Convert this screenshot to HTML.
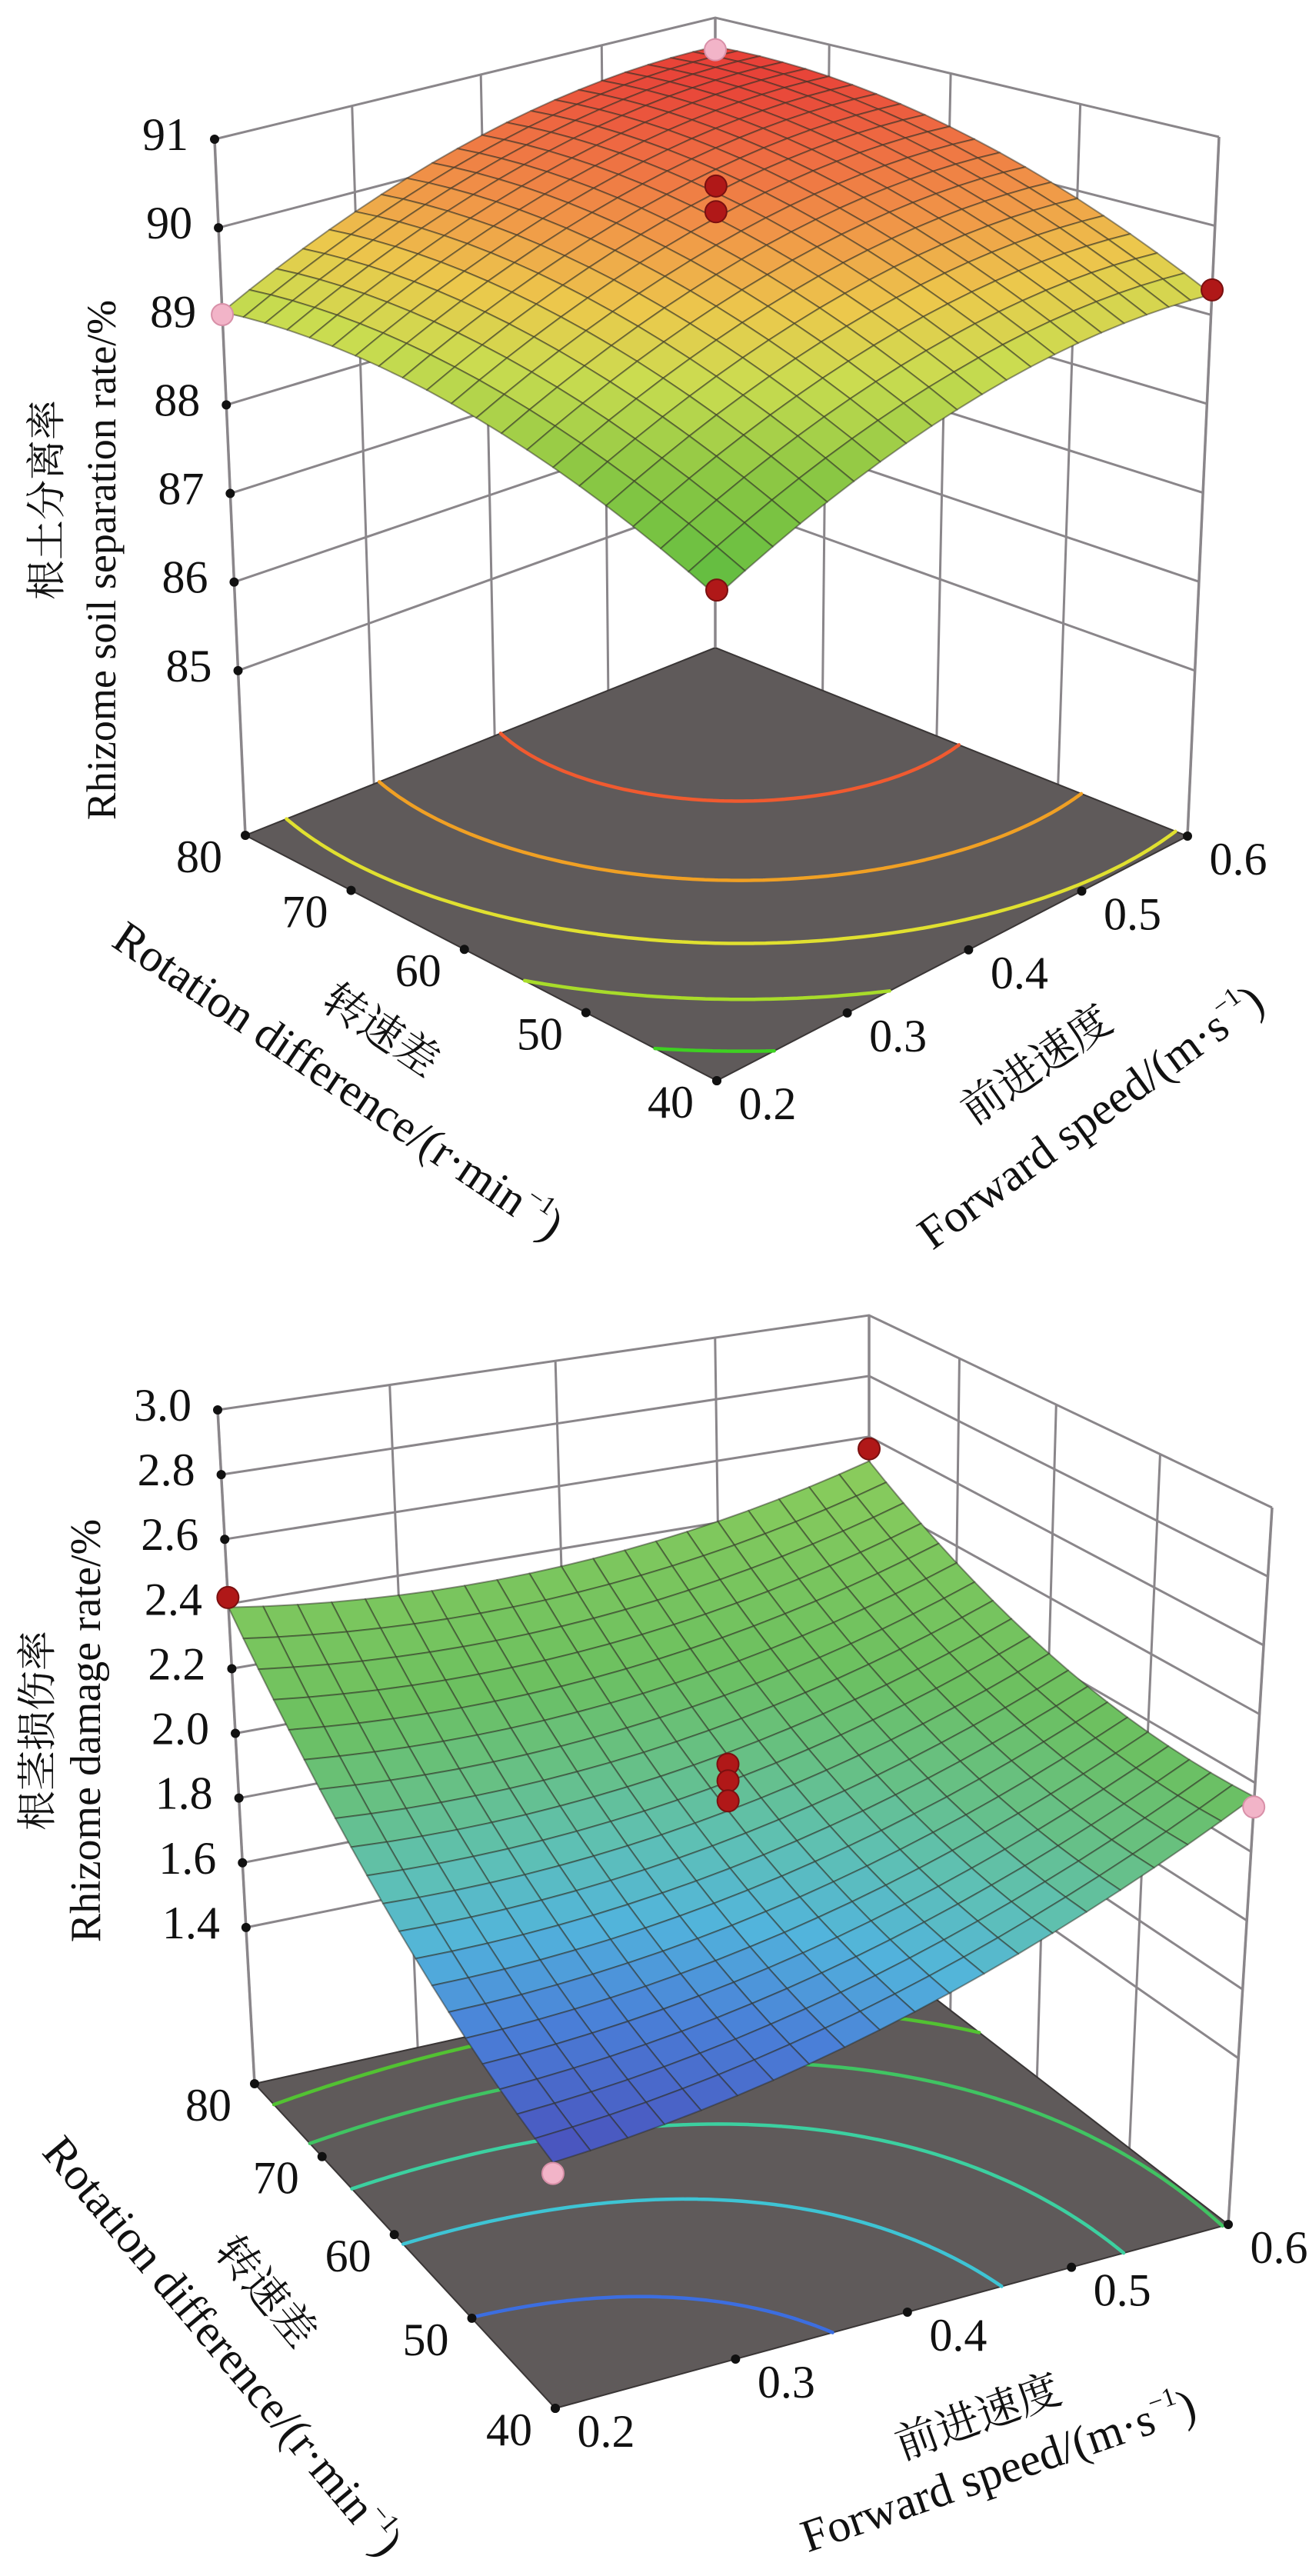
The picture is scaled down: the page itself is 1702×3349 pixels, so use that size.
<!DOCTYPE html>
<html><head><meta charset="utf-8"><style>
html,body{margin:0;padding:0;background:#fff;}
svg{display:block;}
svg text{font-family:"Liberation Serif","Times New Roman","DejaVu Serif","Noto Serif CJK SC",serif;fill:#111;}
svg text.cn{font-family:"Liberation Serif","Noto Serif CJK SC","Noto Sans CJK SC",serif;}
</style></head><body>
<svg id="fig" width="1702" height="3349" viewBox="0 0 1702 3349" xmlns="http://www.w3.org/2000/svg" font-family="Liberation Serif, Times New Roman, DejaVu Serif, Noto Serif CJK SC, serif">
<rect width="1702" height="3349" fill="#fff"/>
<g id="chart-top" font-family="Liberation Serif, serif"></g>
<g id="chart-bot" font-family="Liberation Serif, serif"></g>
<g font-size="60" font-family="Liberation Serif, Noto Serif CJK SC, serif">
 <text class="cn" x="62" y="650" font-size="52" text-anchor="middle" dominant-baseline="central" transform="rotate(-90 62 650)">根土分离率</text>
 <text x="132" y="728" font-size="54" text-anchor="middle" dominant-baseline="central" transform="rotate(-90 132 728)">Rhizome soil separation rate/%</text>
 <text class="cn" x="495" y="1340" font-size="56" text-anchor="middle" dominant-baseline="central" transform="rotate(34 495 1340)">转速差</text>
 <text x="440" y="1405" text-anchor="middle" dominant-baseline="central" transform="rotate(34 440 1405)">Rotation difference/(r·min<tspan font-size="34" dy="-18">−1</tspan><tspan dy="18">)</tspan></text>
 <text class="cn" x="1348" y="1385" font-size="56" text-anchor="middle" dominant-baseline="central" transform="rotate(-35 1348 1385)">前进速度</text>
 <text x="1418" y="1452" text-anchor="middle" dominant-baseline="central" transform="rotate(-36 1418 1452)">Forward speed/(m·s<tspan font-size="34" dy="-18">−1</tspan><tspan dy="18">)</tspan></text>
</g>
<g font-size="60" font-family="Liberation Serif, Noto Serif CJK SC, serif">
 <text class="cn" x="50" y="2250" font-size="52" text-anchor="middle" dominant-baseline="central" transform="rotate(-90 50 2250)">根茎损伤率</text>
 <text x="112" y="2250" font-size="56" text-anchor="middle" dominant-baseline="central" transform="rotate(-90 112 2250)">Rhizome damage rate/%</text>
 <text class="cn" x="345" y="2980" font-size="56" text-anchor="middle" dominant-baseline="central" transform="rotate(50 345 2980)">转速差</text>
 <text x="290" y="3050" text-anchor="middle" dominant-baseline="central" transform="rotate(50 290 3050)">Rotation difference/(r·min<tspan font-size="34" dy="-18">−1</tspan><tspan dy="18">)</tspan></text>
 <text class="cn" x="1272" y="3143" font-size="56" text-anchor="middle" dominant-baseline="central" transform="rotate(-20 1272 3143)">前进速度</text>
 <text x="1298" y="3212" text-anchor="middle" dominant-baseline="central" transform="rotate(-19 1298 3212)">Forward speed/(m·s<tspan font-size="34" dy="-18">−1</tspan><tspan dy="18">)</tspan></text>
</g>
</svg>
<script>
// ---- data ----
const speedTicks = [0.2, 0.3, 0.4, 0.5, 0.6];
const speedLabels = ["0.2", "0.3", "0.4", "0.5", "0.6"];
const rotTicks = [40, 50, 60, 70, 80];
const rotLabels = ["40", "50", "60", "70", "80"];
// regression coefficients (coded): b0, b1(speed), b2(rot), b12, b11, b22
const topCoef = [90.1, 0.705, 0.615, 0.09, -0.435, -0.435];
const botCoef = [1.94, 0.1775, 0.2925, -0.1125, 0.111, 0.111];
const topZTicks = [85, 86, 87, 88, 89, 90, 91];
const topZLabels = ["85", "86", "87", "88", "89", "90", "91"];
const botZTicks = [1.4, 1.6, 1.8, 2.0, 2.2, 2.4, 2.6, 2.8, 3.0];
const botZLabels = ["1.4", "1.6", "1.8", "2.0", "2.2", "2.4", "2.6", "2.8", "3.0"];
// design points: speed, rotation, response
const topPtSpeed = [0.2, 0.6, 0.2, 0.6, 0.4, 0.4];
const topPtRot = [80, 40, 40, 80, 60, 60];
const topPtVal = [89.02, 89.28, 88.06, 90.6, 90.46, 90.17];
const botPtSpeed = [0.2, 0.6, 0.6, 0.2, 0.4, 0.4, 0.4];
const botPtRot = [80, 80, 40, 40, 60, 60, 60];
const botPtVal = [2.42, 2.56, 2.13, 1.55, 2.08, 2.03, 1.97];
const topLevels = [88.3, 88.8, 89.3, 89.8, 90.3];
const botLevels = [1.7, 1.85, 2.0, 2.15, 2.3];
const topStopVals = [88.0, 88.7, 89.2, 89.6, 90.0, 90.4, 90.7];
const botStopVals = [1.56, 1.7, 1.8, 1.9, 2.0, 2.15, 2.5];

// ---- styling / geometry ----
const topStopCols = ["#5cbc40","#8ec844","#cadc50","#ecc84c","#f09848","#ee6a42","#e63a36"];
const botStopCols = ["#4a4ab8","#4a80d8","#52b4dc","#5ec0b4","#66c088","#6cc060","#8acc5c"];
const topContourCols = ["#3ed022","#a8dc2a","#e0e030","#f0a024","#f05a30"];
const botContourCols = ["#3c6ee0","#3ec4d4","#3cd0a0","#40c462","#52c232"];

const NS = "http://www.w3.org/2000/svg";
function mk(tag, attrs, parent){const e=document.createElementNS(NS,tag);for(const k in attrs)e.setAttribute(k,attrs[k]);parent.appendChild(e);return e;}
function hom(q){
  const [x0,y0]=q[0],[x1,y1]=q[1],[x2,y2]=q[2],[x3,y3]=q[3];
  const dx1=x1-x2,dx2=x3-x2,dx3=x0-x1+x2-x3,dy1=y1-y2,dy2=y3-y2,dy3=y0-y1+y2-y3;
  const den=dx1*dy2-dx2*dy1;
  const g=(dx3*dy2-dx2*dy3)/den,h=(dx1*dy3-dx3*dy1)/den;
  const a=x1-x0+g*x1,b=x3-x0+h*x3,c=x0,d=y1-y0+g*y1,e=y3-y0+h*y3,f=y0;
  return (u,v)=>{const w=g*u+h*v+1;return [(a*u+b*v+c)/w,(d*u+e*v+f)/w];};
}
function hex(c){return [parseInt(c.slice(1,3),16),parseInt(c.slice(3,5),16),parseInt(c.slice(5,7),16)];}
function cmap(val, sv, sc){
  if(val<=sv[0])return sc[0]; if(val>=sv[sv.length-1])return sc[sc.length-1];
  for(let i=0;i<sv.length-1;i++){if(val<=sv[i+1]){const t=(val-sv[i])/(sv[i+1]-sv[i]);const a=hex(sc[i]),b=hex(sc[i+1]);
    return "rgb("+a.map((x,j)=>Math.round(x+(b[j]-x)*t)).join(",")+")";}}
}

function build(g, cfg){
  const hb=hom(cfg.bot), ht=hom(cfg.top);
  const uS=s=>(s-0.2)/0.4, vR=r=>(r-40)/40;
  const zt=z=>(z-cfg.zmin)/(cfg.zmax-cfg.zmin);
  const P=(u,v,z)=>{const a=hb(u,v),b=ht(u,v),t=zt(z);return [a[0]+(b[0]-a[0])*t,a[1]+(b[1]-a[1])*t];};
  const c=cfg.coef;
  const F=(u,v)=>{const x=2*u-1,y=2*v-1;return c[0]+c[1]*x+c[2]*y+c[3]*x*y+c[4]*x*x+c[5]*y*y;};
  const pt=p=>p[0].toFixed(1)+","+p[1].toFixed(1);
  const z0=cfg.zmin,z1=cfg.zmax;
  const walls=mk("g",{},g);
  
  
  const ws={stroke:"#8a868a","stroke-width":3,fill:"none"};
  cfg.zTicks.forEach(z=>{
    const l=mk("polyline",Object.assign({points:[P(0,1,z),P(1,1,z),P(1,0,z)].map(pt).join(" ")},ws),walls);
    
    
  });
  speedTicks.forEach(s=>{
    const u=uS(s);
    const l=mk("line",Object.assign({x1:P(u,1,z0)[0],y1:P(u,1,z0)[1],x2:P(u,1,z1)[0],y2:P(u,1,z1)[1]},ws),walls);
    
    
  });
  rotTicks.forEach(r=>{
    const v=vR(r);
    const l=mk("line",Object.assign({x1:P(1,v,z0)[0],y1:P(1,v,z0)[1],x2:P(1,v,z1)[0],y2:P(1,v,z1)[1]},ws),walls);
    
    
  });
  const floor=mk("polygon",{points:[P(0,0,z0),P(1,0,z0),P(1,1,z0),P(0,1,z0)].map(pt).join(" "),fill:"#5f5a5a",stroke:"#3a3636","stroke-width":2},g);
  
  
  const cg=mk("g",{fill:"none","stroke-width":4.5,"stroke-linecap":"round"},g);
  
  
  const M=80;
  cfg.levels.forEach((L,li)=>{
    let d="";
    for(let i=0;i<M;i++)for(let j=0;j<M;j++){
      const u0=i/M,u1=(i+1)/M,v0=j/M,v1=(j+1)/M;
      const cs=[[u0,v0],[u1,v0],[u1,v1],[u0,v1]];
      const vals=cs.map(q=>F(q[0],q[1]));
      const cr=[];
      for(let k=0;k<4;k++){const a=vals[k],b=vals[(k+1)%4];
        if((a<L)!==(b<L)){const t=(L-a)/(b-a);const p=cs[k],q=cs[(k+1)%4];cr.push([p[0]+(q[0]-p[0])*t,p[1]+(q[1]-p[1])*t]);}}
      for(let k=0;k+1<cr.length;k+=2){d+="M"+pt(P(cr[k][0],cr[k][1],z0))+"L"+pt(P(cr[k+1][0],cr[k+1][1],z0));}
    }
    const p=mk("path",{d:d,stroke:cfg.contourCols[li]},cg);
    
    
  });
  const eg=mk("g",{stroke:"#8a868a","stroke-width":3.5,fill:"none"},g);
  
  
  [[0,1],[1,1],[1,0]].forEach(q=>{const a=P(q[0],q[1],z0),b=P(q[0],q[1],z1);
    const l=mk("line",{x1:a[0],y1:a[1],x2:b[0],y2:b[1]},eg);
    
    });
  const sg=mk("g",{stroke:"rgba(45,45,35,0.5)","stroke-width":2,"stroke-linejoin":"round"},g);
  
  
  const N=20, quads=[];
  for(let i=0;i<N;i++)for(let j=0;j<N;j++)quads.push([i,j]);
  quads.sort((a,b)=>(b[0]+b[1])-(a[0]+a[1]));
  quads.forEach(([i,j])=>{
    const u0=i/N,u1=(i+1)/N,v0=j/N,v1=(j+1)/N;
    const ps=[[u0,v0],[u1,v0],[u1,v1],[u0,v1]].map(q=>P(q[0],q[1],F(q[0],q[1])));
    const val=F((u0+u1)/2,(v0+v1)/2);
    const poly=mk("polygon",{points:ps.map(pt).join(" "),fill:cmap(val,cfg.stopVals,cfg.stopCols)},sg);
    
    
  });
  const tg=mk("g",{"font-size":60,"font-family":"Liberation Serif, Times New Roman, serif"},g);
  
  
  cfg.zTicks.forEach((z,k)=>{
    const p=P(0,1,z);
    const d=mk("circle",{cx:p[0],cy:p[1],r:6,fill:"#111"},tg);
    
    
    const t=mk("text",{x:p[0]-34,y:p[1]-6,"text-anchor":"end","dominant-baseline":"central"},tg);
    t.textContent=cfg.zLabels[k];
    
    
  });
  rotTicks.forEach((r,k)=>{
    const p=P(0,vR(r),z0);
    const d=mk("circle",{cx:p[0],cy:p[1],r:6,fill:"#111"},tg);
    
    
    const t=mk("text",{x:p[0]-60,y:p[1]+28,"text-anchor":"middle","dominant-baseline":"central"},tg);
    t.textContent=rotLabels[k];
    
    
  });
  speedTicks.forEach((s,k)=>{
    const p=P(uS(s),0,z0);
    const d=mk("circle",{cx:p[0],cy:p[1],r:6,fill:"#111"},tg);
    
    
    const t=mk("text",{x:p[0]+66,y:p[1]+30,"text-anchor":"middle","dominant-baseline":"central"},tg);
    t.textContent=speedLabels[k];
    
    
  });
  const dg=mk("g",{},g);
  
  
  cfg.ptS.forEach((s,k)=>{
    const u=uS(s),v=vR(cfg.ptR[k]),val=cfg.ptV[k];
    const above=val>=F(u,v);
    const p=P(u,v,val);
    const cc=mk("circle",{cx:p[0],cy:p[1],r:14,fill:above?"#b01818":"#f2b4c8",stroke:above?"#7a1010":"#d890a8","stroke-width":2},dg);
    
    
  });
}

build(document.getElementById("chart-top"),{
  bot:[[932,1405],[1544,1087],[930,842],[319,1086]],
  top:[[932,386],[1585,178],[930,23],[279,181]],
  zmin:83.14,zmax:91,coef:topCoef,zTicks:topZTicks,zLabels:topZLabels,
  levels:topLevels,contourCols:topContourCols,stopVals:topStopVals,stopCols:topStopCols,
  ptS:topPtSpeed,ptR:topPtRot,ptV:topPtVal
});
build(document.getElementById("chart-bot"),{
  bot:[[722,3131],[1597,2892],[1130,2532],[331,2709]],
  top:[[712,2126],[1654,1960],[1130,1710],[283,1833]],
  zmin:0.917,zmax:3.0,coef:botCoef,zTicks:botZTicks,zLabels:botZLabels,
  levels:botLevels,contourCols:botContourCols,stopVals:botStopVals,stopCols:botStopCols,
  ptS:botPtSpeed,ptR:botPtRot,ptV:botPtVal
});
</script>
</body></html>
